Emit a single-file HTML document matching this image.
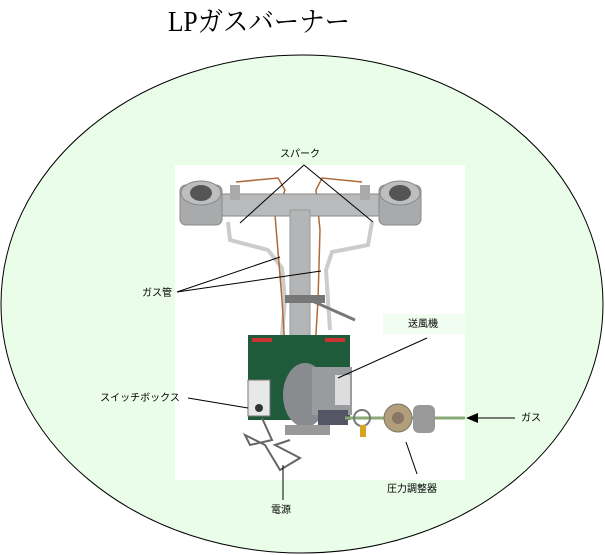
<!DOCTYPE html>
<html><head><meta charset="utf-8"><style>
html,body{margin:0;padding:0;background:#fff;width:605px;height:555px;overflow:hidden}
svg{display:block}
text{font-family:"Liberation Sans","Noto Sans CJK JP",sans-serif;font-size:10px;fill:#000}
</style></head><body>
<svg width="605" height="555" viewBox="0 0 605 555">
<text x="259" y="31" text-anchor="middle" textLength="182" lengthAdjust="spacingAndGlyphs" style="font-family:'Liberation Serif','Noto Serif CJK SC',serif;font-size:28px">LPガスバーナー</text>
<ellipse cx="302" cy="304" rx="301" ry="249" fill="#e9fde9" stroke="#000" stroke-width="1"/>
<rect x="175" y="165" width="290" height="315" fill="#fff"/>
<rect x="383" y="314" width="82" height="20" fill="#f0fdf0"/>
<path d="M228,222 L230,240 L268,250 L282,268 L285,300" fill="none" stroke="#ccc" stroke-width="4"/>
<path d="M372,222 L368,245 L332,252 L326,270 L330,330" fill="none" stroke="#ccc" stroke-width="4"/>
<path d="M285,300 L282,335" fill="none" stroke="#ccc" stroke-width="4"/>
<path d="M236,182 L278,178 L285,190 L275,215 L282,300 L288,400" fill="none" stroke="#b06a3a" stroke-width="1.5"/>
<path d="M362,182 L322,178 L316,190 L320,230 L318,300 L312,400" fill="none" stroke="#b06a3a" stroke-width="1.5"/>
<rect x="215" y="194" width="170" height="22" fill="#b9babc" stroke="#888"/>
<rect x="230" y="185" width="10" height="15" fill="#aaa"/>
<rect x="360" y="185" width="10" height="15" fill="#aaa"/>
<rect x="180" y="185" width="42" height="40" rx="6" fill="#a9aaac" stroke="#888"/>
<ellipse cx="201" cy="193" rx="20" ry="12" fill="#bdbec0" stroke="#888"/>
<ellipse cx="201" cy="193" rx="11" ry="8" fill="#555"/>
<rect x="379" y="185" width="42" height="40" rx="6" fill="#a9aaac" stroke="#888"/>
<ellipse cx="400" cy="193" rx="20" ry="12" fill="#bdbec0" stroke="#888"/>
<ellipse cx="400" cy="193" rx="11" ry="8" fill="#555"/>
<rect x="290" y="210" width="20" height="150" fill="#b4b5b7" stroke="#999"/>
<rect x="285" y="295" width="40" height="8" fill="#777"/>
<line x1="310" y1="300" x2="355" y2="320" stroke="#777" stroke-width="3"/>
<rect x="248" y="335" width="102" height="85" fill="#1f5a3a"/>
<rect x="252" y="338" width="20" height="4" fill="#c33"/>
<rect x="325" y="338" width="20" height="4" fill="#c33"/>
<rect x="248" y="380" width="22" height="36" fill="#e8e8e8" stroke="#777"/>
<circle cx="259" cy="408" r="4" fill="#333"/>
<ellipse cx="305" cy="395" rx="22" ry="32" fill="#8a8b8e"/>
<rect x="312" y="367" width="40" height="48" fill="#9a9b9e"/>
<rect x="335" y="375" width="15" height="30" fill="#ddd"/>
<rect x="285" y="425" width="45" height="10" fill="#999"/>
<rect x="318" y="410" width="30" height="15" fill="#556"/>
<line x1="345" y1="418" x2="465" y2="418" stroke="#8a7" stroke-width="3"/>
<circle cx="362" cy="418" r="8" fill="none" stroke="#777" stroke-width="2"/>
<rect x="360" y="425" width="6" height="12" fill="#d9a520"/>
<circle cx="398" cy="418" r="14" fill="#b39e7c" stroke="#776"/>
<circle cx="398" cy="418" r="6" fill="#876"/>
<rect x="413" y="405" width="22" height="28" rx="6" fill="#999"/>
<path d="M262,418 L272,440 L250,445 L245,435 L265,445 L280,470 L300,458 L275,445 L290,440" fill="none" stroke="#666" stroke-width="2"/>
<g stroke="#000" stroke-width="1" fill="none">
<line x1="304" y1="165" x2="240" y2="223"/>
<line x1="304" y1="165" x2="373" y2="222"/>
<line x1="177" y1="292" x2="280" y2="257"/>
<line x1="177" y1="292" x2="321" y2="271"/>
<line x1="427" y1="338" x2="338" y2="378"/>
<line x1="188" y1="398" x2="248" y2="408"/>
<line x1="417" y1="474" x2="406" y2="442"/>
<line x1="283" y1="500" x2="283" y2="465"/>
<line x1="515" y1="418" x2="475" y2="418"/>
</g>
<polygon points="466,418 478,413 478,423" fill="#000"/>
<text x="300" y="157" text-anchor="middle">スパーク</text>
<text x="157" y="296" text-anchor="middle">ガス管</text>
<text x="423" y="327" text-anchor="middle">送風機</text>
<text x="140" y="401" text-anchor="middle">スイッチボックス</text>
<text x="531" y="421" text-anchor="middle">ガス</text>
<text x="412" y="492" text-anchor="middle">圧力調整器</text>
<text x="281" y="513" text-anchor="middle">電源</text>
</svg>
</body></html>
